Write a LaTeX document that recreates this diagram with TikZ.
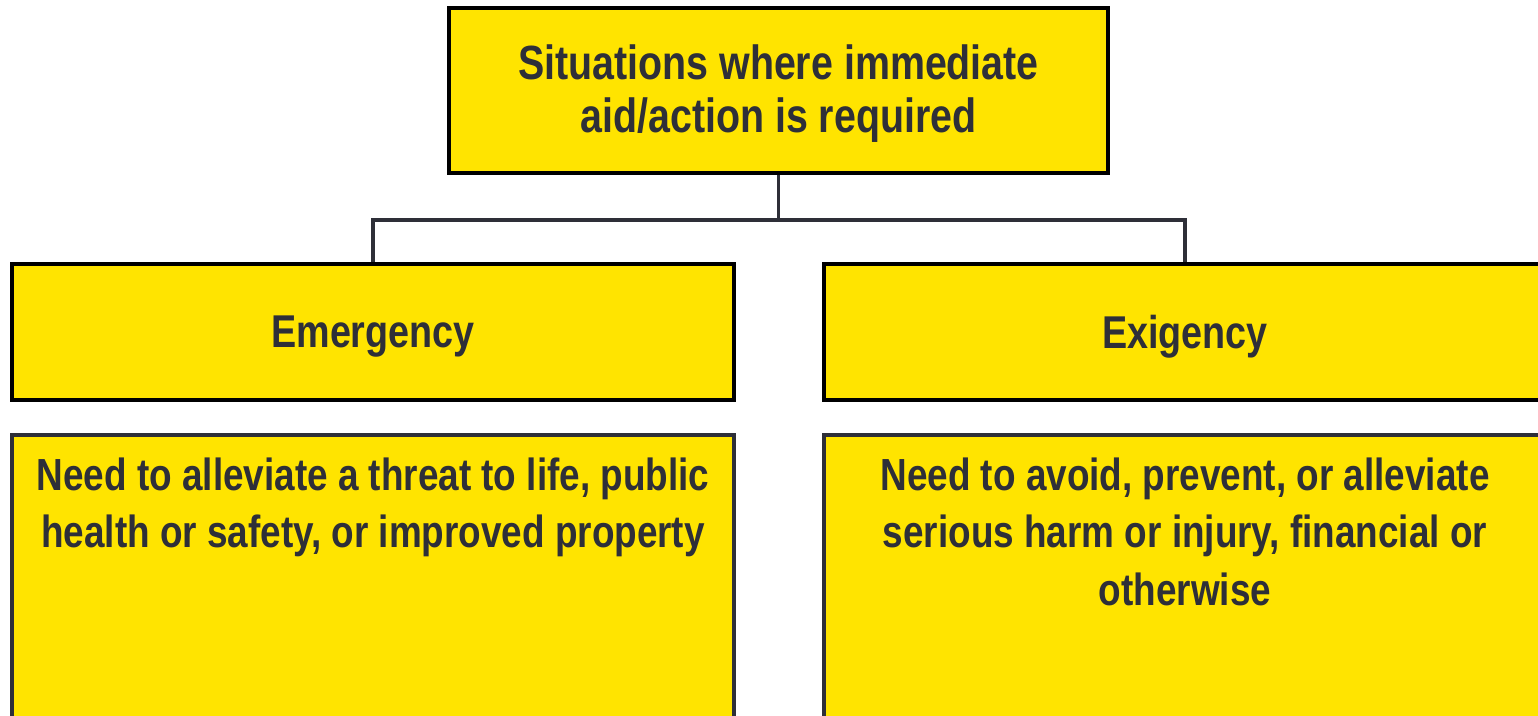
\documentclass[tikz,border=0pt]{standalone}
\usepackage{fontspec}
\setmainfont{Liberation Sans}[FakeStretch=0.82]
\definecolor{boxyellow}{HTML}{FFE400}
\definecolor{inkgray}{HTML}{2E2F38}
\begin{document}
\begin{tikzpicture}[x=0.5pt,y=-0.5pt,
  box/.style={draw=black, line width=2pt, fill=boxyellow, inner sep=0pt,
    text=inkgray, font=\bfseries, align=center},
  headbox/.style={box, minimum width=361pt, minimum height=68pt,
    font=\bfseries\fontsize{23}{26}\selectfont, text depth=0pt},
  notebox/.style={box, draw=inkgray, minimum width=361pt, minimum height=165pt},
  notetext/.style={anchor=north, inner sep=0pt, text=inkgray, align=center,
    font=\bfseries\fontsize{22.5}{28.75}\selectfont},
  conn/.style={draw=inkgray, line width=1.6pt}]
\useasboundingbox (0,0) rectangle (1538,716);
\clip (0,0) rectangle (1538,716);

% top level
\node[box, minimum width=329.5pt, minimum height=82.5pt, text depth=2pt,
  font=\bfseries\fontsize{24}{26.5}\selectfont] (top) at (778.5,90.5)
  {Situations where immediate\\aid/action is required};

% categories
\node[headbox] (emer) at (373,332) {Emergency};
\node[headbox] (exig) at (1185,332) {Exigency};

% descriptions
\node[notebox] (emerdesc) at (373,600) {};
\node[notebox] (exigdesc) at (1185,600) {};
\node[notetext] (emertext) at ([yshift=-12pt]emerdesc.north)
  {Need to alleviate a threat to life, public\\health or safety, or improved property};
\node[notetext] (exigtext) at ([yshift=-12pt]exigdesc.north)
  {Need to avoid, prevent, or alleviate\\serious harm or injury, financial or\\otherwise};

% tree connectors
\draw[conn] (top.south) -- ++(0,45) coordinate (split);
\draw[conn] (emer.north) |- (split) -| (exig.north);
\end{tikzpicture}
\end{document}
